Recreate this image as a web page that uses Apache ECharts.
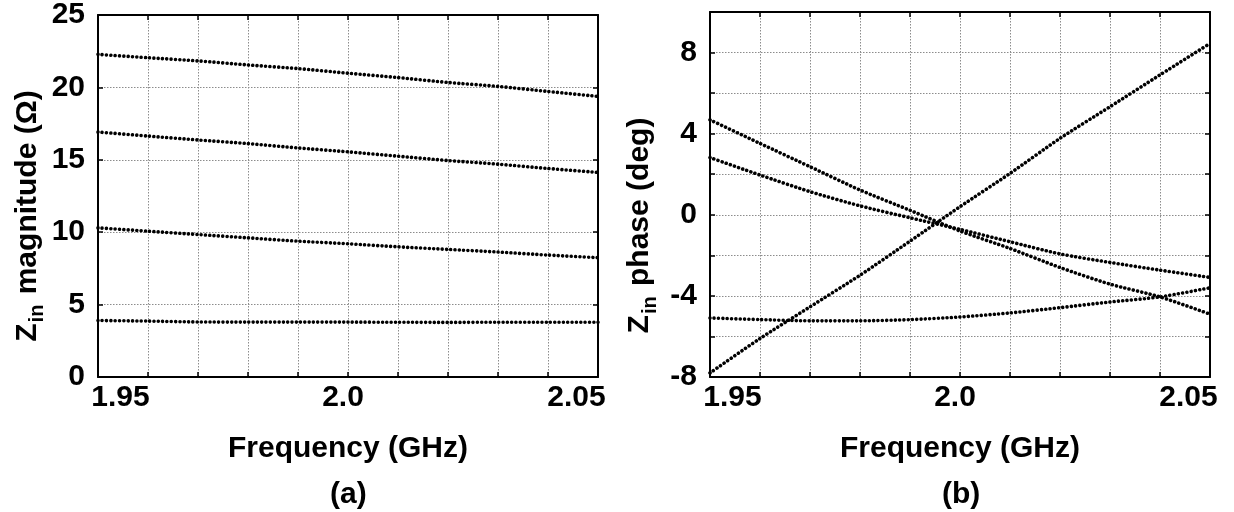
<!DOCTYPE html>
<html><head><meta charset="utf-8">
<script src="https://cdn.jsdelivr.net/npm/echarts@6/dist/echarts.min.js"></script>
<style>html,body{margin:0;padding:0;background:#fff}#c{width:1234px;height:512px}</style>
</head><body><div id="c"></div>
<script>
// ---- data ----
const freq = [1.9375, 1.95, 1.9625, 1.975, 1.9875, 2.0, 2.0125, 2.025, 2.0375, 2.05, 2.0625];
// (a) |Zin| in ohms
const magTop    = [22.28, 22.05, 21.83, 21.55, 21.30, 20.98, 20.68, 20.34, 20.07, 19.72, 19.38];
const magSecond = [16.92, 16.64, 16.37, 16.12, 15.82, 15.55, 15.25, 14.95, 14.70, 14.40, 14.13];
const magThird  = [10.30, 10.07, 9.84, 9.61, 9.38, 9.20, 8.99, 8.81, 8.63, 8.42, 8.24];
const magFourth = [3.90, 3.86, 3.80, 3.79, 3.79, 3.79, 3.78, 3.77, 3.78, 3.78, 3.78];
// (b) phase in degrees
const phaseRising = [-7.8, -6.1, -4.54, -2.98, -1.3, 0.4, 2.04, 3.77, 5.33, 6.9, 8.45];
const phaseSteep  = [4.68, 3.52, 2.37, 1.22, 0.22, -0.8, -1.66, -2.6, -3.42, -4.05, -4.9];
const phaseMild   = [2.82, 1.96, 1.14, 0.44, -0.15, -0.72, -1.33, -1.93, -2.35, -2.73, -3.09];
const phaseFlat   = [-5.09, -5.17, -5.23, -5.23, -5.17, -5.04, -4.84, -4.58, -4.3, -4.05, -3.6];
// tick labels
const xTickLabels = ['1.95', '2.0', '2.05'];
const magTickLabels = ['0', '5', '10', '15', '20', '25'];
const phaseTickLabels = ['-8', '-4', '0', '4', '8'];

const FONT = '"Liberation Sans", Arial, sans-serif';
const FS = 30;
const chart = echarts.init(document.getElementById('c'), null, {renderer: 'canvas'});

const base = {fontFamily: FONT, fontSize: FS, fontWeight: 'bold', color: '#000'};
const xRich = {
  L: Object.assign({}, base, {padding: [0, 55, 0, 0]}),
  C: Object.assign({}, base, {padding: [0, 10, 0, 0]}),
  R: Object.assign({}, base, {padding: [0, 0, 0, 57]})
};
const tags = ['L', 'C', 'R'];
function xFmt(v) {
  for (let i = 0; i < xTickLabels.length; i++) {
    if (Math.abs(parseFloat(xTickLabels[i]) - v) < 1e-6) return '{' + tags[i] + '|' + xTickLabels[i] + '}';
  }
  return '';
}
function yFmt(list) {
  return function (v) {
    for (const s of list) if (Math.abs(parseFloat(s) - v) < 1e-6) return s;
    return '';
  };
}
const axisLine = {show: true, onZero: false, lineStyle: {color: '#000', width: 2}};
const axisTick = {show: true, inside: true, length: 5, lineStyle: {color: '#000', width: 1.5}};
const splitLine = {show: true, lineStyle: {color: '#8c8c8c', width: 1, type: [1.5, 1.5]}};
function yName(rest, shift) {
  return {
    text: '{z|Z}{s|in}{z|' + rest + '}',
    padding: [0, shift, 0, 0],
    rich: {
      z: Object.assign({}, base, {lineHeight: 40, verticalAlign: 'middle'}),
      s: Object.assign({}, base, {fontSize: 20, lineHeight: 40, verticalAlign: 'bottom', padding: [0, 2, 0, 1]})
    }
  };
}
const magName = yName(' magnitude (Ω)', 40);
const phName = yName(' phase (deg)', 62);

function xAxes(gi) {
  return [{
    gridIndex: gi, type: 'value', position: 'bottom', min: 1.9375, max: 2.0625, interval: 0.0125,
    axisLine, axisTick, splitLine,
    axisLabel: Object.assign({show: true, formatter: xFmt, rich: xRich, margin: 6}, base),
    name: 'Frequency (GHz)', nameLocation: 'middle', nameGap: 57, nameTextStyle: base
  }, {
    gridIndex: gi, type: 'value', position: 'top', min: 1.9375, max: 2.0625, interval: 0.0125,
    axisLine, axisTick, splitLine: {show: false}, axisLabel: {show: false}
  }];
}
function yAxes(gi, min, max, interval, labels, nm) {
  return [{
    gridIndex: gi, type: 'value', position: 'left', min, max, interval,
    axisLine, axisTick, splitLine,
    axisLabel: Object.assign({show: true, formatter: yFmt(labels), margin: 13}, base),
    name: nm.text, nameLocation: 'middle', nameRotate: 90, nameGap: 50,
    nameTextStyle: Object.assign({}, base, {rich: nm.rich, padding: nm.padding})
  }, {
    gridIndex: gi, type: 'value', position: 'right', min, max, interval,
    axisLine, axisTick, splitLine: {show: false}, axisLabel: {show: false}
  }];
}
function dotted(xi, yi, ys) {
  return {
    type: 'line', xAxisIndex: xi, yAxisIndex: yi, showSymbol: false, symbol: 'none', clip: false,
    smooth: 0.25, data: freq.map((f, i) => [f, ys[i]]),
    lineStyle: {color: '#000', width: 3.6, type: [0.01, 4.3], cap: 'round'}, silent: true
  };
}
chart.setOption({
  animation: false,
  backgroundColor: '#fff',
  grid: [
    {left: 98, top: 12, width: 500, height: 365, containLabel: false},
    {left: 710, top: 12, width: 500, height: 365, containLabel: false}
  ],
  xAxis: [...xAxes(0), ...xAxes(1)],
  yAxis: [...yAxes(0, 0, 25, 5, magTickLabels, magName), ...yAxes(1, -8, 10, 2, phaseTickLabels, phName)],
  graphic: [
    {type: 'text', left: 348 - 18, top: 480, style: {text: '(a)', font: 'bold 30px ' + FONT, fill: '#000'}},
    {type: 'text', left: 960 - 18, top: 480, style: {text: '(b)', font: 'bold 30px ' + FONT, fill: '#000'}}
  ],
  series: [
    dotted(0, 0, magTop), dotted(0, 0, magSecond), dotted(0, 0, magThird), dotted(0, 0, magFourth),
    dotted(2, 2, phaseRising), dotted(2, 2, phaseSteep), dotted(2, 2, phaseMild), dotted(2, 2, phaseFlat)
  ]
});
</script></body></html>
